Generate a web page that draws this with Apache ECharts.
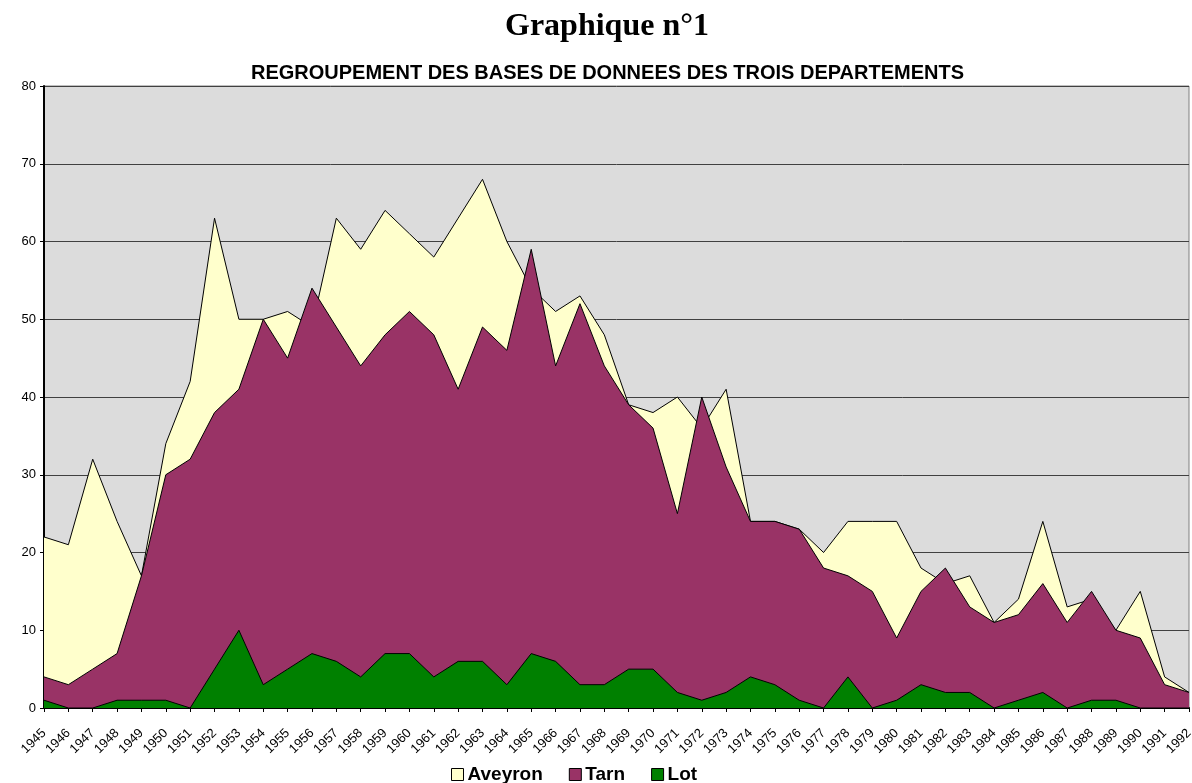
<!DOCTYPE html>
<html>
<head>
  <meta charset="utf-8">
  <title>Graphique n°1</title>
  <style>
  html, body { margin: 0; padding: 0; background: #fff; }
  #chart { width: 1192px; height: 783px; }
  </style>
</head>
<body>
  <div id="chart"></div>
  <script src="https://cdn.jsdelivr.net/npm/echarts@6/dist/echarts.min.js"></script>
  <script>
  const years = ['1945', '1946', '1947', '1948', '1949', '1950', '1951', '1952', '1953', '1954',
    '1955', '1956', '1957', '1958', '1959', '1960', '1961', '1962', '1963', '1964',
    '1965', '1966', '1967', '1968', '1969', '1970', '1971', '1972', '1973', '1974',
    '1975', '1976', '1977', '1978', '1979', '1980', '1981', '1982', '1983', '1984',
    '1985', '1986', '1987', '1988', '1989', '1990', '1991', '1992']
  const aveyron = [22, 21, 32, 24, 17, 34, 42, 63, 50, 50,
    51, 49, 63, 59, 64, 61, 58, 63, 68, 60,
    54, 51, 53, 48, 39, 38, 40, 36, 41, 24,
    24, 23, 20, 24, 24, 24, 18, 16, 17, 11,
    14, 24, 13, 14, 10, 15, 4, 2]
  const tarn = [4, 3, 5, 7, 17, 30, 32, 38, 41, 50,
    45, 54, 49, 44, 48, 51, 48, 41, 49, 46,
    59, 44, 52, 44, 39, 36, 25, 40, 31, 24,
    24, 23, 18, 17, 15, 9, 15, 18, 13, 11,
    12, 16, 11, 15, 10, 9, 3, 2]
  const lot = [1, 0, 0, 1, 1, 1, 0, 5, 10, 3,
    5, 7, 6, 4, 7, 7, 4, 6, 6, 3,
    7, 6, 3, 3, 5, 5, 2, 1, 2, 4,
    3, 1, 0, 4, 0, 1, 3, 2, 2, 0,
    1, 2, 0, 1, 1, 0, 0, 0]
  const yTicks = { min: 0, max: 80, interval: 10 }

  // séries superposées (non empilées) : Aveyron derrière, Lot devant
  function area(name, data, color, z) {
    return {
      name: name,
      type: 'line',
      z: z,
      data: data,
      showSymbol: false,
      symbol: 'none',
      itemStyle: { color: color },
      lineStyle: { color: '#000', width: 1 },
      areaStyle: { color: color, opacity: 1 },
      emphasis: { disabled: true }
    }
  }

  let option = {
    animation: false,
    backgroundColor: '#fff',
    title: [{
      text: 'Graphique n°1',
      left: 500,
      top: 6,
      textStyle: { fontFamily: 'Liberation Serif', fontSize: 32, fontWeight: 'bold', color: '#000' }
    }, {
      text: 'REGROUPEMENT DES BASES DE DONNEES DES TROIS DEPARTEMENTS',
      left: 246,
      top: 58,
      textStyle: { fontFamily: 'Liberation Sans', fontSize: 20, fontWeight: 'bold', color: '#000' }
    }],
    legend: {
      top: 765,
      left: 451,
      icon: 'rect',
      itemWidth: 12,
      itemHeight: 12,
      itemGap: 26,
      padding: 0,
      itemStyle: { borderColor: '#000', borderWidth: 1 },
      textStyle: { fontFamily: 'Liberation Sans', fontSize: 19, fontWeight: 'bold', color: '#000', padding: [0, 0, 0, -1] },
      data: ['Aveyron', 'Tarn', 'Lot']
    },
    grid: {
      left: 44,
      right: 3,
      top: 86,
      bottom: 75,
      outerBoundsMode: 'none',
      show: true,
      backgroundColor: '#DCDCDC',
      borderColor: '#808080',
      borderWidth: 1
    },
    xAxis: {
      type: 'category',
      boundaryGap: false,
      data: years,
      axisLine: { lineStyle: { color: '#000', width: 2 } },
      axisTick: { show: true, interval: 0, length: 4, lineStyle: { color: '#000' } },
      axisLabel: { interval: 0, rotate: 45, fontFamily: 'Liberation Sans', fontSize: 13, color: '#000', margin: 23 },
      splitLine: { show: false }
    },
    yAxis: {
      type: 'value',
      min: yTicks.min,
      max: yTicks.max,
      interval: yTicks.interval,
      axisLine: { show: true, lineStyle: { color: '#000', width: 2 } },
      axisTick: { show: true, length: 4, lineStyle: { color: '#000' } },
      axisLabel: { fontFamily: 'Liberation Sans', fontSize: 13, color: '#000', margin: 8 },
      splitLine: { show: true, lineStyle: { color: '#404040', width: 1 } }
    },
    series: [
      area('Aveyron', aveyron, '#FFFFCC', 2),
      area('Tarn', tarn, '#993366', 3),
      area('Lot', lot, '#008000', 4)
    ]
  }
  let myChart = echarts.init(document.getElementById('chart'))
  myChart.setOption(option)
  </script>
</body>
</html>
